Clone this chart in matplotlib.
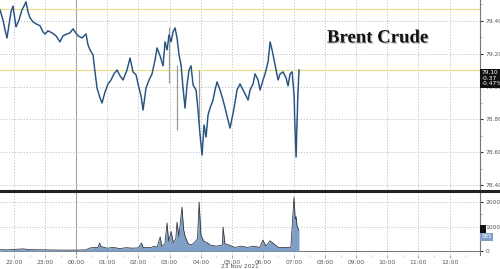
import numpy as np
import matplotlib as mpl
import matplotlib.pyplot as plt
from matplotlib.lines import Line2D
from matplotlib.ticker import MultipleLocator
import matplotlib.patheffects as pe

# hours measured from 22:00 (22 Nov 2021)
price_t = [-0.45, -0.354, -0.289, -0.225, -0.161, -0.096, -0.032, 0.064, 0.161, 0.257,
           0.322, 0.386, 0.45, 0.514, 0.611, 0.707, 0.836, 0.932, 0.997, 1.093,
           1.222, 1.35, 1.479, 1.576, 1.704, 1.8, 1.897, 1.961, 2.058, 2.186,
           2.315, 2.379, 2.444, 2.54, 2.604, 2.669, 2.765, 2.83, 2.926, 3.022,
           3.119, 3.215, 3.312, 3.408, 3.505, 3.633, 3.73, 3.826, 3.923, 4.019,
           4.084, 4.148, 4.244, 4.341, 4.437, 4.534, 4.598, 4.695, 4.791, 4.855,
           4.92, 4.984, 5.048, 5.113, 5.177, 5.241, 5.305, 5.37, 5.434, 5.498,
           5.563, 5.627, 5.691, 5.756, 5.852, 5.916, 5.981, 6.045, 6.109, 6.174,
           6.238, 6.302, 6.399, 6.463, 6.527, 6.624, 6.72, 6.817, 6.881, 6.945,
           7.01, 7.074, 7.17, 7.267, 7.363, 7.46, 7.524, 7.588, 7.685, 7.749,
           7.846, 7.91, 8.006, 8.071, 8.167, 8.232, 8.296, 8.36, 8.424, 8.489,
           8.553, 8.65, 8.746, 8.81, 8.875, 8.939, 9.003, 9.035, 9.068, 9.1,
           9.132, 9.164]
price = [79.467, 79.406, 79.345, 79.296, 79.376, 79.455, 79.49, 79.363, 79.406, 79.467,
         79.49, 79.516, 79.455, 79.418, 79.394, 79.382, 79.37, 79.333, 79.32, 79.339,
         79.327, 79.309, 79.272, 79.309, 79.32, 79.327, 79.351, 79.333, 79.309, 79.296,
         79.32, 79.254, 79.223, 79.193, 79.089, 78.991, 78.93, 78.9, 78.967, 79.016,
         79.04, 79.077, 79.101, 79.065, 79.04, 79.101, 79.174, 79.089, 79.071, 78.991,
         78.943, 78.857, 78.991, 79.04, 79.077, 79.162, 79.235, 79.187, 79.126, 79.272,
         79.223, 79.315, 79.272, 79.333, 79.357, 79.296, 79.193, 79.132, 78.991, 78.869,
         79.01, 79.101, 79.126, 79.01, 78.979, 78.857, 78.705, 78.583, 78.766, 78.693,
         78.827, 78.869, 78.918, 78.979, 79.028, 78.979, 78.918, 78.845, 78.796, 78.747,
         78.808, 78.869, 78.979, 79.016, 78.979, 78.943, 78.918, 78.979, 79.016, 79.077,
         79.04, 78.979, 79.04, 79.077, 79.15, 79.272, 79.223, 79.162, 79.101, 79.04,
         79.077, 79.089, 79.052, 79.004, 79.077, 79.089, 78.949, 78.735, 78.571, 78.796,
         78.979, 79.101]

# a few long wicks (time, low, high)
wick_t = [4.98, 5.24, 5.95]
wick_lo = [79.02, 78.735, 78.78]
wick_hi = [79.36, 79.132, 79.10]

vol_t = [-0.45, -0.2, 0.0, 0.3, 0.5, 1.0, 1.5, 2.0, 2.3, 2.45,
         2.6, 2.7, 2.75, 2.8, 3.0, 3.2, 3.4, 3.6, 3.8, 4.0,
         4.1, 4.15, 4.4, 4.5, 4.6, 4.7, 4.75, 4.85, 4.92, 4.97,
         5.05, 5.12, 5.2, 5.24, 5.3, 5.4, 5.45, 5.5, 5.6, 5.7,
         5.8, 5.9, 5.95, 6.01, 6.1, 6.2, 6.3, 6.5, 6.7, 6.72,
         6.78, 6.9, 7.1, 7.3, 7.5, 7.7, 7.9, 8.0, 8.1, 8.23,
         8.5, 8.9, 9.0, 9.04, 9.07, 9.1, 9.16]
vol = [60, 50, 70, 90, 60, 50, 40, 40, 50, 130,
       150, 140, 330, 180, 120, 150, 100, 140, 120, 130,
       330, 150, 140, 200, 160, 580, 200, 300, 1150, 400,
       800, 350, 500, 1180, 600, 1800, 900, 600, 300, 250,
       350, 500, 2000, 650, 400, 350, 250, 200, 250, 980,
       300, 250, 150, 200, 150, 200, 150, 450, 200, 420,
       150, 150, 2200, 1300, 1400, 1000, 850]

hour_labels = ["22:00", "23:00", "00:00", "01:00", "02:00", "03:00", "04:00", "05:00",
               "06:00", "07:00", "08:00", "09:00", "10:00", "11:00", "12:00"]
price_ticks = [78.40, 78.60, 78.80, 79.00, 79.20, 79.40]
vol_ticks = [0, 1000, 2000]

mpl.rcParams.update({
    "font.family": "DejaVu Sans",
    "xtick.color": "#555555",
    "ytick.color": "#555555",
    "xtick.labelcolor": "#555555",
    "ytick.labelcolor": "#555555",
})

fig = plt.figure(figsize=(5.0, 2.69), dpi=100)
ax = fig.add_axes([0.0, 1 - 190 / 269, 0.96, 190 / 269])
axv = fig.add_axes([0.0, 1 - 255 / 269, 0.96, 62 / 269], sharex=ax)

grid_kw = dict(color="#bbbbbb", lw=0.6, ls=(0, (1.5, 2.0)))

for a in (ax, axv):
    for s in ("left", "top", "bottom"):
        a.spines[s].set_visible(False)
    a.spines["right"].set_color("#777777")
    a.spines["right"].set_linewidth(0.8)
    a.yaxis.tick_right()
    a.tick_params(axis="y", which="major", direction="out", length=2.5, width=0.8,
                  labelsize=4.3, pad=1.2, color="#333333")
    a.tick_params(axis="y", which="minor", direction="out", length=1.5, width=0.5,
                  color="#888888")
    a.set_xticks(range(len(hour_labels)))
    a.grid(True, axis="both", **grid_kw)
    a.axvline(2, color="#999999", lw=0.8, zorder=1)

ax.set_xlim(-0.45, 14.98)
ax.set_ylim(78.37, 79.527)
ax.set_yticks(price_ticks)
ax.set_yticklabels([f"{v:.2f}" for v in price_ticks])
ax.yaxis.set_minor_locator(MultipleLocator(0.1))
ax.tick_params(axis="x", which="both", length=0, labelbottom=False)

# reference levels
ax.axhline(79.47, color="#e6e08a", lw=0.9, zorder=2)
ax.axhline(79.10, color="#e6e08a", lw=0.9, zorder=2)

ax.vlines(wick_t, wick_lo, wick_hi, color="#9a9a9a", lw=0.9, zorder=3)
ax.plot(price_t, price, color="#5a8fc8", lw=1.2, zorder=4)
ax.plot(price_t, price, color="#1f2b3a", lw=0.45, zorder=5)

ax.text(0.787, 0.80, "Brent Crude", transform=ax.transAxes, ha="center", va="center",
        family="Liberation Serif", fontweight="bold", fontsize=13.5, color="#111111",
        path_effects=[pe.withSimplePatchShadow(offset=(0.8, -0.8), shadow_rgbFace="#999999",
                                               alpha=0.6)])

# last price box
ax.text(1.003, 79.10, "79.10\n-0.37\n-0.47%", transform=ax.get_yaxis_transform(),
        ha="left", va="top", fontsize=4.2, color="white", linespacing=1.15,
        bbox=dict(boxstyle="square,pad=0.25", fc="#111111", ec="none"), clip_on=False)

axv.set_ylim(-160, 2370)
axv.set_yticks(vol_ticks)
axv.set_yticklabels([str(v) for v in vol_ticks])
axv.yaxis.set_minor_locator(MultipleLocator(500))
axv.set_xticklabels(hour_labels)
axv.tick_params(axis="x", which="major", length=2, width=0.5, labelsize=4.3, pad=1.5,
                color="#888888")
axv.xaxis.set_minor_locator(MultipleLocator(0.5))
axv.tick_params(axis="x", which="minor", length=1.2, width=0.4, color="#aaaaaa")

axv.fill_between(vol_t, 0, vol, color="#7f9fc6", lw=0, zorder=3)
axv.plot(vol_t, vol, color="#2a2f38", lw=0.55, zorder=4)
axv.axhline(0, color="#444444", lw=0.5, zorder=2)

axv.text(1.003, 900, "  ", transform=axv.get_yaxis_transform(), ha="left", va="center",
         fontsize=3.5, color="white",
         bbox=dict(boxstyle="square,pad=0.3", fc="#111111", ec="none"), clip_on=False)
axv.text(1.003, 585, "585", transform=axv.get_yaxis_transform(), ha="left", va="center",
         fontsize=4.0, color="white",
         bbox=dict(boxstyle="square,pad=0.25", fc="#7f9fc6", ec="none"), clip_on=False)

fig.text(0.48, 4.5 / 269, "23 Nov 2021", ha="center", va="top", fontsize=4.2, color="#555555")

# thick separator between the panels
fig.add_artist(Line2D([0, 1], [1 - 191 / 269, 1 - 191 / 269], color="#222222", lw=2.2,
                      transform=fig.transFigure))

fig.savefig("out.png", dpi=100)
